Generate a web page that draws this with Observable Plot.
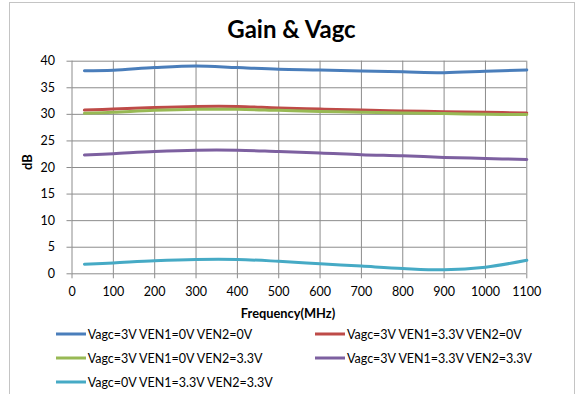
<!DOCTYPE html>
<html>
<head>
<meta charset="utf-8">
<script src="https://cdn.jsdelivr.net/npm/d3@7"></script>
<script src="https://cdn.jsdelivr.net/npm/@observablehq/plot@0.6"></script>
<style>
  html, body { margin: 0; padding: 0; background: #fff; overflow: hidden; }
  #wrap { position: relative; width: 583px; height: 394px; overflow: hidden; font-family: Lato, "Open Sans", sans-serif; color: #000; }
  #border { position: absolute; left: 9px; top: 2px; width: 566px; height: 420px; border: 1px solid #c4c4c4; box-sizing: border-box; }
  #chart { position: absolute; left: 0; top: 0; }
  .title { position: absolute; left: 0; width: 583px; top: 14px; text-align: center; font-weight: bold; font-size: 24px; padding-left: 0px; }
  .ylab { position: absolute; left: 27px; top: 162px; transform: translate(-50%, -50%) rotate(-90deg); font-weight: bold; font-size: 13px; white-space: nowrap; }
  .xlab { position: absolute; left: 288px; top: 313px; transform: translate(-50%, -50%); font-weight: bold; font-size: 12.8px; white-space: nowrap; }
  .leg { position: absolute; display: flex; align-items: center; font-size: 12.5px; white-space: nowrap; transform: translateY(-50%); color: #000; }
  .sw { width: 30px; height: 3px; margin-right: 2px; }
</style>
</head>
<body>
<div id="wrap">
  <div id="border"></div>
  <div id="chart"></div>
</div>
<script>
const freqs = [30, 100, 200, 300, 400, 500, 600, 700, 800, 900, 1000, 1100];
const seriesNames = [
  "Vagc=3V VEN1=0V VEN2=0V",
  "Vagc=3V VEN1=3.3V VEN2=0V",
  "Vagc=3V VEN1=0V VEN2=3.3V",
  "Vagc=3V VEN1=3.3V VEN2=3.3V",
  "Vagc=0V VEN1=3.3V VEN2=3.3V"
];
const seriesColors = ["#4a7ebb", "#be4b48", "#98b954", "#7d60a0", "#46aac5"];
const gainA = [38.2, 38.3, 38.8, 39.1, 38.8, 38.5, 38.35, 38.15, 38.0, 37.85, 38.1, 38.35];
const gainB = [30.8, 31.0, 31.3, 31.5, 31.5, 31.2, 31.0, 30.8, 30.65, 30.5, 30.4, 30.25];
const gainC = [30.2, 30.4, 30.75, 30.95, 30.95, 30.75, 30.55, 30.4, 30.25, 30.15, 30.0, 29.95];
const gainD = [22.35, 22.6, 23.0, 23.25, 23.25, 23.0, 22.75, 22.4, 22.2, 21.9, 21.7, 21.5];
const gainE = [1.8, 2.05, 2.45, 2.7, 2.7, 2.35, 1.9, 1.45, 1.0, 0.75, 1.25, 2.55];
const xTicks = [0, 100, 200, 300, 400, 500, 600, 700, 800, 900, 1000, 1100];
const yTicks = [0, 5, 10, 15, 20, 25, 30, 35, 40];
const titleText = "Gain & Vagc";
const xLabel = "Frequency(MHz)";
const yLabel = "dB";

const allGains = [gainA, gainB, gainC, gainD, gainE];
const data = [];
allGains.forEach((g, i) => g.forEach((v, j) => data.push({series: seriesNames[i], f: freqs[j], gain: v})));

const gridColor = "#8c8c8c";
const fmt = d => String(d);
const plot = Plot.plot({
  width: 583,
  height: 394,
  marginLeft: 71.5,
  marginRight: 56.7,
  marginTop: 60.7,
  marginBottom: 120.7,
  style: {fontFamily: "Lato, 'Open Sans', sans-serif", fontSize: "12px", color: "#000", background: "transparent", overflow: "visible"},
  x: {domain: [0, 1100], ticks: xTicks, label: null},
  y: {domain: [0, 40], ticks: yTicks, label: null},
  color: {domain: seriesNames, range: seriesColors},
  marks: [
    Plot.gridX(xTicks, {stroke: gridColor, strokeOpacity: 1}),
    Plot.gridY(yTicks, {stroke: gridColor, strokeOpacity: 1}),
    Plot.axisX(xTicks, {tickSize: 5, tickPadding: 8, stroke: gridColor, fill: "#000", fontSize: 12.5, tickFormat: fmt}),
    Plot.axisY(yTicks, {tickSize: 5, tickPadding: 12, stroke: gridColor, fill: "#000", fontSize: 12.5, tickFormat: fmt}),
    Plot.line(data, {x: "f", y: "gain", z: "series", stroke: "series", strokeWidth: 3, curve: "catmull-rom"})
  ]
});
const chart = document.getElementById("chart");
chart.appendChild(plot);

const wrap = document.getElementById("wrap");
function addDiv(cls, text) {
  const d = document.createElement("div");
  d.className = cls;
  d.textContent = text;
  wrap.appendChild(d);
  return d;
}
addDiv("title", titleText);
addDiv("ylab", yLabel);
addDiv("xlab", xLabel);

const legendPos = [[55.7, 334], [315, 334], [55.7, 358], [315, 358], [55.7, 382]];
seriesNames.forEach((name, i) => {
  const d = document.createElement("div");
  d.className = "leg";
  d.style.left = legendPos[i][0] + "px";
  d.style.top = legendPos[i][1] + "px";
  const sw = document.createElement("span");
  sw.className = "sw";
  sw.style.background = seriesColors[i];
  const t = document.createElement("span");
  t.textContent = name;
  d.appendChild(sw);
  d.appendChild(t);
  wrap.appendChild(d);
});
</script>
</body>
</html>
